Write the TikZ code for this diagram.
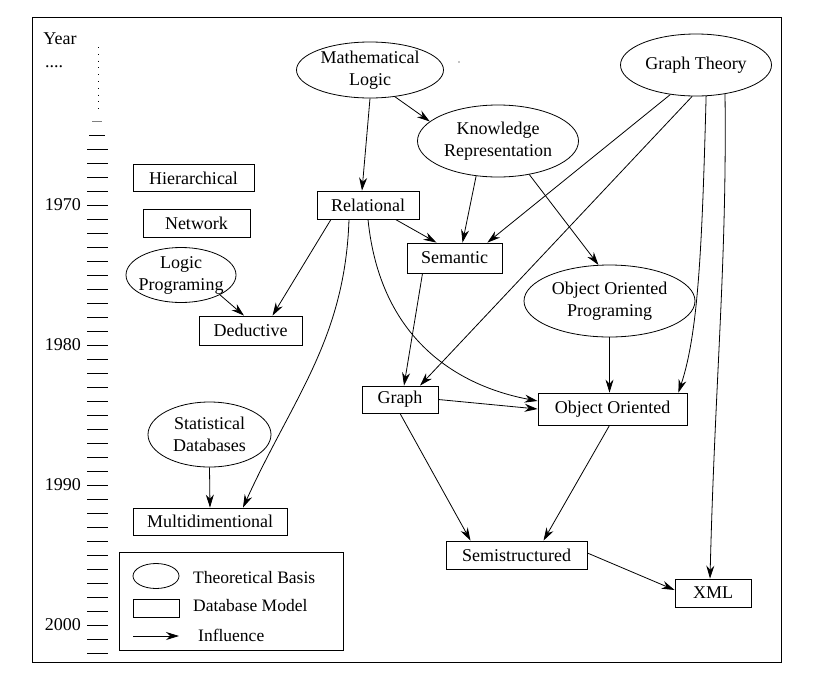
\documentclass[tikz,border=0pt]{standalone}
\usepackage{fontspec}
\setmainfont{Liberation Serif}
\usetikzlibrary{shapes,arrows.meta,positioning,calc}

\begin{document}
\begin{tikzpicture}[x=1pt, y=-1pt,
    every node/.style={font=\fontsize{18}{22}\selectfont, inner sep=0pt},
    theory/.style={draw, ellipse, line width=0.8pt, align=center, inner xsep=-10pt, inner ysep=-6pt},
    model/.style={draw, rectangle, line width=0.8pt},
    influence/.style={-{Stealth[length=13pt, width=8pt]}, line width=0.8pt}]
  \useasboundingbox (0,0) rectangle (819,686);
  \draw[line width=1pt] (32,17) rectangle (781,662);

  % time line
  \node (yearlbl) at (60,39) {Year};
  \node[anchor=base] (dots) at (54,67) {....};
  \draw[line width=1pt, dash pattern=on 1pt off 5.8pt] (98,47) -- (98,112);
  \draw[line width=1pt, gray] (92,121) -- (102,121);
  \draw[line width=1pt] (89,135) -- (105,135);
  \foreach \yr in {1966,...,2002}
    \draw[line width=1pt] (87,{205+14*(\yr-1970)}) -- (108,{205+14*(\yr-1970)});
  \foreach \yr in {1970,1980,1990,2000}
    \node[anchor=east] (y\yr) at (81,{205+14*(\yr-1970)}) {\yr};
  \fill (459,62) circle (0.7pt);

  % theoretical bases
  \node[theory, minimum width=147pt, minimum height=56pt] (mathlogic) at (370,70)
       {Mathematical\\Logic};
  \node[theory, minimum width=161pt, minimum height=72pt] (knowrep) at (498,141)
       {Knowledge\\Representation};
  \node[theory, minimum width=151pt, minimum height=62pt] (graphtheory) at (696,65)
       {Graph Theory};
  \node[theory, minimum width=110pt, minimum height=55pt] (logicprog) at (181,275)
       {Logic\\Programing};
  \node[theory, minimum width=171pt, minimum height=72pt] (oop) at (609.5,301)
       {Object Oriented\\Programing};
  \node[theory, minimum width=123pt, minimum height=65pt] (statdb) at (209.5,434.5)
       {Statistical\\Databases};

  % database models
  \node[model, minimum width=121pt, minimum height=27pt] (hier) at (193.5,178) {Hierarchical};
  \node[model, minimum width=107pt, minimum height=28pt] (network) at (196.5,223) {Network};
  \node[model, minimum width=103pt, minimum height=29pt] (deductive) at (250.5,330.5) {Deductive};
  \node[model, minimum width=102pt, minimum height=28pt] (relational) at (368,205) {Relational};
  \node[model, minimum width=95pt, minimum height=30pt] (semantic) at (454.5,258) {Semantic};
  \node[model, minimum width=76pt, minimum height=27pt] (graph) at (400,399.5) {Graph};
  \node[model, minimum width=149pt, minimum height=32pt] (objor) at (612.5,409) {Object Oriented};
  \node[model, minimum width=154pt, minimum height=27pt] (multidim) at (210,521.5) {Multidimentional};
  \node[model, minimum width=141pt, minimum height=28pt] (semistr) at (516.5,555) {Semistructured};
  \node[model, minimum width=76pt, minimum height=28pt] (xml) at (713,593) {XML};

  % influences
  \draw[influence] (mathlogic.south) -- ([xshift=-6pt]relational.north);
  \draw[influence] (mathlogic.-47) -- (knowrep.164);
  \draw[influence] (knowrep.-122) -- ([xshift=8pt]semantic.north);
  \draw[influence] (knowrep.-47) -- (oop.107);
  \draw[influence] (graphtheory.-131) -- ([xshift=-15pt]semantic.north east);
  \draw[influence] (graphtheory.-97) -- ([xshift=20pt]graph.north);
  \draw[influence] (graphtheory.-72) .. controls +(-4,150) and +(20,-60) .. ([xshift=-9pt]objor.north east);
  \draw[influence] (graphtheory.-45) .. controls +(2,170) and +(5,-200) .. ([xshift=-3pt]xml.north);
  \draw[influence] ([xshift=-24pt]relational.south east) -- ([xshift=-18pt]semantic.north);
  \draw[influence] ([xshift=-37pt]relational.south) -- ([xshift=22pt]deductive.north);
  \draw[influence] ([xshift=-19pt]relational.south) .. controls +(-4,120) and +(50,-110) .. ([xshift=33pt]multidim.north);
  \draw[influence] (relational.south) .. controls +(12,120) and +(-80,-15) .. ([yshift=8pt]objor.west);
  \draw[influence] ([xshift=-32pt]semantic.south) -- ([xshift=4pt]graph.north);
  \draw[influence] (logicprog.-27) -- ([xshift=-6.5pt]deductive.north);
  \draw[influence] (oop.south) -- ([xshift=-3pt]objor.north);
  \draw[influence] (graph.east) -- (objor.west);
  \draw[influence] (graph.south) -- ([xshift=-46pt]semistr.north);
  \draw[influence] ([xshift=-3pt]objor.south) -- ([xshift=27pt]semistr.north);
  \draw[influence] ([yshift=2pt]semistr.east) -- ([yshift=3pt]xml.west);
  \draw[influence] (statdb.south) -- (multidim.north);

  % legend
  \draw[line width=0.8pt] (119,552) rectangle (343,650);
  \node[theory, minimum width=46pt, minimum height=25pt] (legtheory) at (156,576) {};
  \node[anchor=west, font=\fontsize{17.5}{21}\selectfont] (legtheorylbl) at (193,578) {Theoretical Basis};
  \node[model, minimum width=46pt, minimum height=18pt] (legmodel) at (156,608) {};
  \node[anchor=west, font=\fontsize{17.5}{21}\selectfont] (legmodellbl) at (193,606) {Database Model};
  \coordinate (legstart) at (133,636);
  \coordinate (legend) at (179,636);
  \draw[influence] (legstart) -- (legend);
  \node[anchor=west, font=\fontsize{17.5}{21}\selectfont] (leginfl) at (198,635) {Influence};
\end{tikzpicture}
\end{document}
